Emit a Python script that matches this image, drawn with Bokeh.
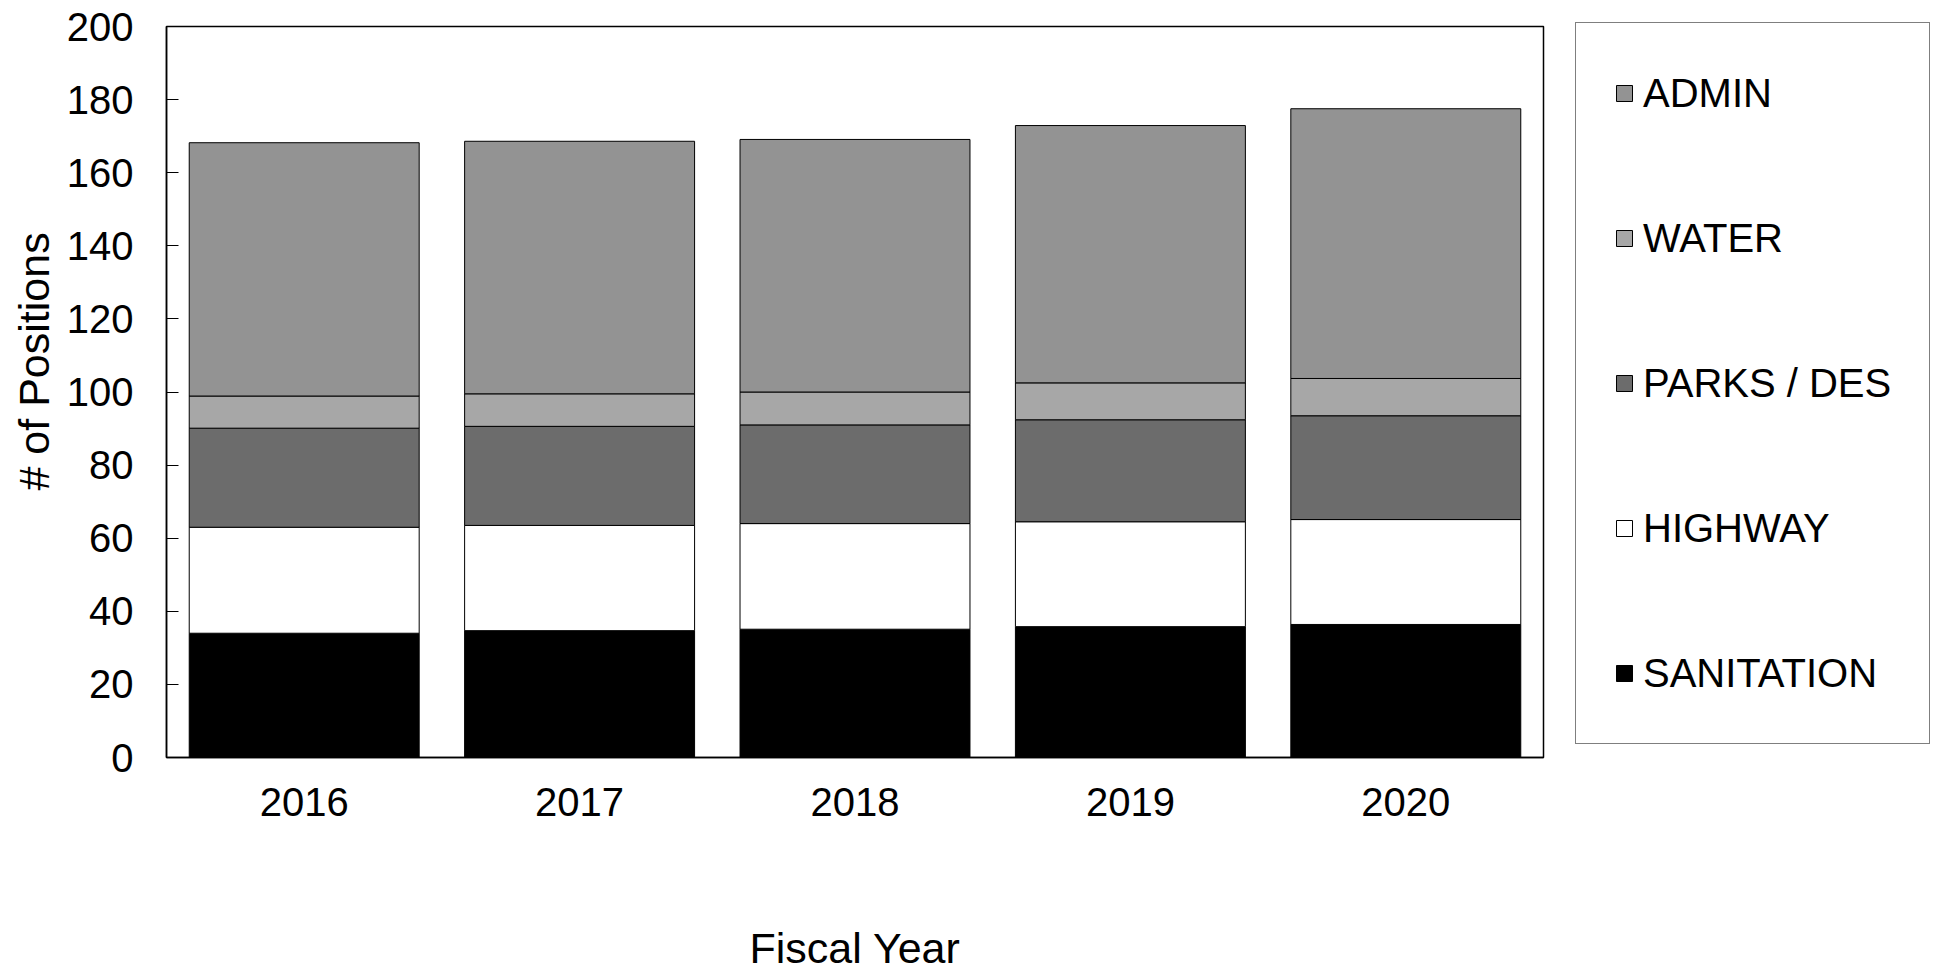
from bokeh.plotting import figure
from bokeh.models import FactorRange, Range1d, Legend, LegendItem, FixedTicker, ColumnDataSource, Title
from bokeh.embed import file_html
from bokeh.resources import INLINE

years = ["2016", "2017", "2018", "2019", "2020"]
sanitation = [34.0, 34.7, 35.1, 35.8, 36.4]
highway = [29.0, 28.8, 28.9, 28.7, 28.7]
parks = [27.1, 27.1, 27.0, 27.9, 28.4]
water = [8.8, 8.9, 9.0, 10.1, 10.2]
admin = [69.3, 69.1, 69.1, 70.4, 73.8]

series_names = ["SANITATION", "HIGHWAY", "PARKS / DES", "WATER", "ADMIN"]
series_keys = ["sanitation", "highway", "parks", "water", "admin"]
series_colors = ["#000000", "#ffffff", "#6c6c6c", "#a7a7a7", "#939393"]
y_ticks = [0, 20, 40, 60, 80, 100, 120, 140, 160, 180, 200]

source = ColumnDataSource(dict(years=years, sanitation=sanitation, highway=highway,
                               parks=parks, water=water, admin=admin))

FONT = "Liberation Sans"

p = figure(x_range=FactorRange(*years, range_padding=0), y_range=Range1d(0, 200),
           frame_width=1377, frame_height=731,
           min_border_left=166, min_border_right=391, min_border_top=26, min_border_bottom=214,
           output_backend="svg", toolbar_location=None, background_fill_color="white",
           border_fill_color="white")

renderers = p.vbar_stack(series_keys, x="years", width=0.835, source=source,
                         fill_color=series_colors, line_color="black", line_width=1)

p.xgrid.grid_line_color = None
p.ygrid.grid_line_color = None
p.outline_line_color = "black"
p.outline_line_width = 1.5

# y axis
p.yaxis.ticker = FixedTicker(ticks=y_ticks)
p.yaxis.major_tick_in = 12
p.yaxis.major_tick_out = 0
p.yaxis.minor_tick_line_color = None
p.yaxis.major_label_standoff = 33
p.yaxis.major_label_text_font = FONT
p.yaxis.major_label_text_font_size = "40px"
p.yaxis.major_label_text_color = "black"
p.yaxis.axis_line_color = "black"
p.yaxis.axis_line_width = 1.5

ylabel = Title(text="# of Positions", align="left", offset=267, standoff=12,
               text_font=FONT, text_font_size="43px", text_font_style="normal",
               text_color="black")
p.add_layout(ylabel, "left")

# x axis
p.xaxis.major_tick_line_color = None
p.xaxis.major_tick_in = 0
p.xaxis.major_tick_out = 0
p.xaxis.minor_tick_line_color = None
p.xaxis.axis_line_color = "black"
p.xaxis.axis_line_width = 1.5
p.xaxis.major_label_standoff = 30
p.xaxis.major_label_text_font = FONT
p.xaxis.major_label_text_font_size = "40px"
p.xaxis.major_label_text_color = "black"
p.xaxis.axis_label = "Fiscal Year"
p.xaxis.axis_label_text_font = FONT
p.xaxis.axis_label_text_font_size = "43px"
p.xaxis.axis_label_text_font_style = "normal"
p.xaxis.axis_label_text_color = "black"
p.xaxis.axis_label_standoff = 105

items = [LegendItem(label=n, renderers=[r]) for n, r in zip(series_names, renderers)][::-1]
legend = Legend(items=items, location=(32, 13), margin=0,
                label_text_font=FONT, label_text_font_size="40px", label_text_color="black",
                glyph_width=20, glyph_height=20, label_height=64, label_standoff=9,
                spacing=81, padding=38, border_line_color="black", border_line_width=1,
                background_fill_color="white", background_fill_alpha=1)
p.add_layout(legend, "right")

open("out.html", "w").write(file_html(p, INLINE))
